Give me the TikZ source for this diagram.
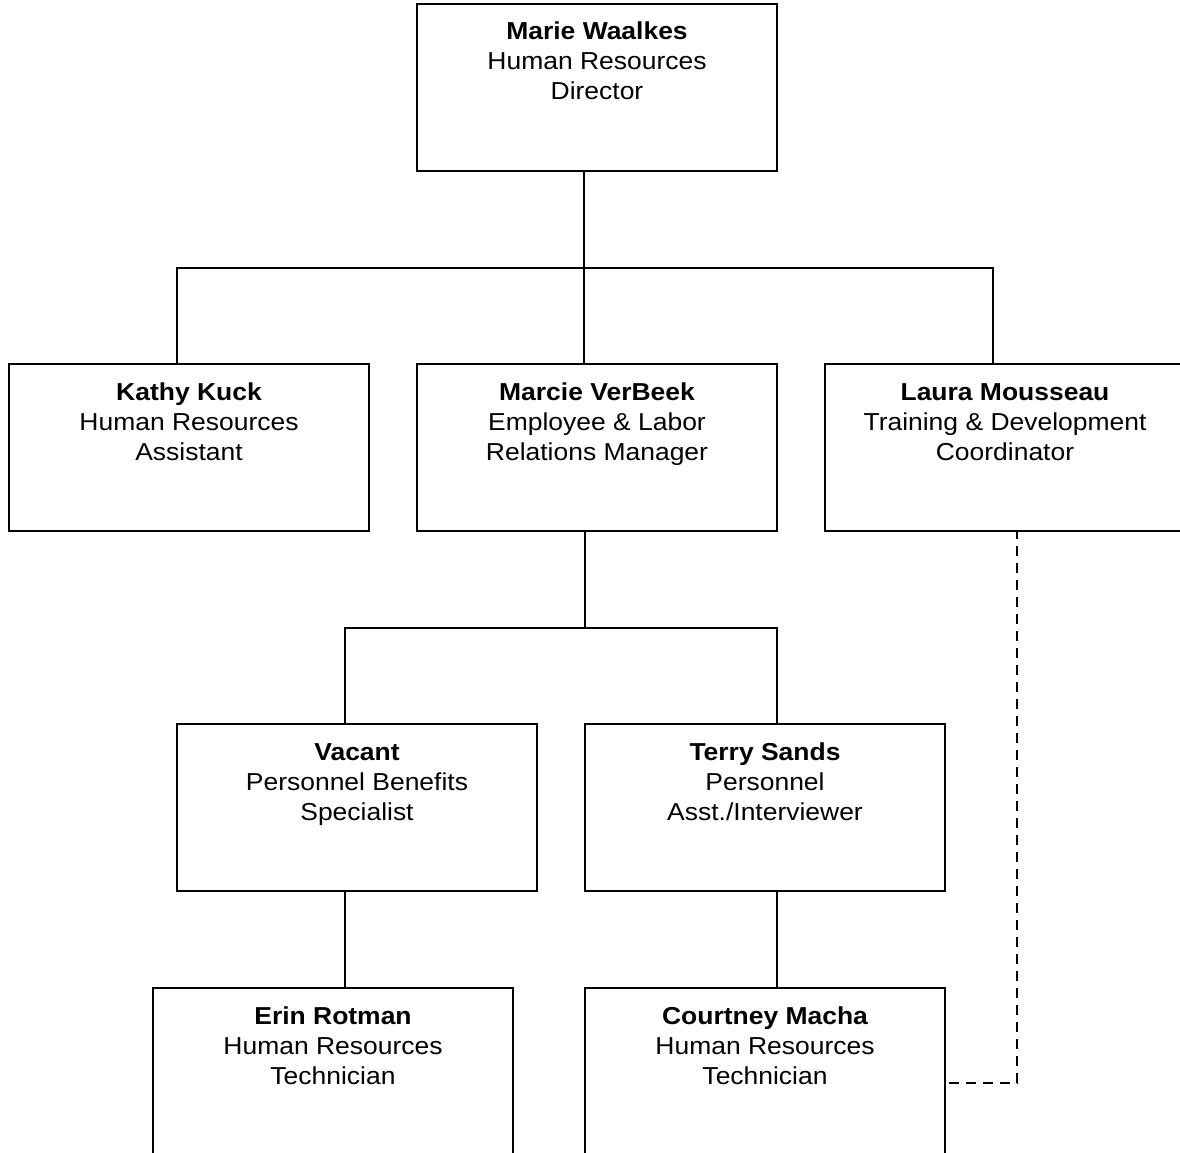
\documentclass[tikz,border=0pt]{standalone}
\usepackage{fontspec}
\setmainfont{Liberation Sans}[FakeStretch=1.08]
\newcommand\orgperson[6]{%
  \node[box] (#1) at (#2,#3+83.5) {};
  \node[nm] (#1-n) at (#2,#3+36) {#4};
  \node[tl] (#1-a) at (#2,#3+66) {#5};
  \node[tl] (#1-b) at (#2,#3+96) {#6};}
\begin{document}
\begin{tikzpicture}[x=1pt,y=-1pt,
  box/.style={draw,line width=2.3pt,minimum width=360pt,minimum height=167pt,inner sep=0pt},
  conn/.style={line width=1.7pt},
  dashconn/.style={line width=2pt,dash pattern=on 10pt off 7pt,dash phase=3pt},
  nm/.style={anchor=base,inner sep=0pt,font=\fontsize{24.5}{30}\selectfont\bfseries},
  tl/.style={anchor=base,inner sep=0pt,font=\fontsize{24.5}{30}\selectfont}]
\useasboundingbox (0,0) rectangle (1180,1153);
\clip (0,0) rectangle (1180,1153);
\fill[white] (0,0) rectangle (1180,1153);

\orgperson{marie}{597}{4}{Marie Waalkes}{Human Resources}{Director}
\orgperson{kathy}{189}{364}{Kathy Kuck}{Human Resources}{Assistant}
\orgperson{marcie}{597}{364}{Marcie VerBeek}{Employee \& Labor}{Relations Manager}
\orgperson{laura}{1005}{364}{Laura Mousseau}{Training \& Development}{Coordinator}
\orgperson{vacant}{357}{724}{Vacant}{Personnel Benefits}{Specialist}
\orgperson{terry}{765}{724}{Terry Sands}{Personnel}{Asst./Interviewer}
\orgperson{erin}{333}{988}{Erin Rotman}{Human Resources}{Technician}
\orgperson{courtney}{765}{988}{Courtney Macha}{Human Resources}{Technician}

\coordinate (bus1) at (584,268);
\coordinate (bus2) at (585,628);
\coordinate (dcorner) at (1017,1083);
\coordinate (dend) at (949,1083);

\draw[conn] ([xshift=-13pt]marie.south) -- (bus1);
\draw[conn] ([xshift=-12pt]kathy.north) -- ([xshift=-12pt]kathy.north |- bus1)
  -- ([xshift=-12pt]laura.north |- bus1) -- ([xshift=-12pt]laura.north);
\draw[conn] (bus1) -- ([xshift=-13pt]marcie.north);

\draw[conn] ([xshift=-12pt]marcie.south) -- (bus2);
\draw[conn] ([xshift=-12pt]vacant.north) -- ([xshift=-12pt]vacant.north |- bus2)
  -- ([xshift=12pt]terry.north |- bus2) -- ([xshift=12pt]terry.north);

\draw[conn] ([xshift=-12pt]vacant.south) -- ([xshift=12pt]erin.north);
\draw[conn] ([xshift=12pt]terry.south) -- ([xshift=12pt]courtney.north);

\draw[dashconn] ([xshift=12pt]laura.south) -- (dcorner) -- (dend);
\end{tikzpicture}
\end{document}
